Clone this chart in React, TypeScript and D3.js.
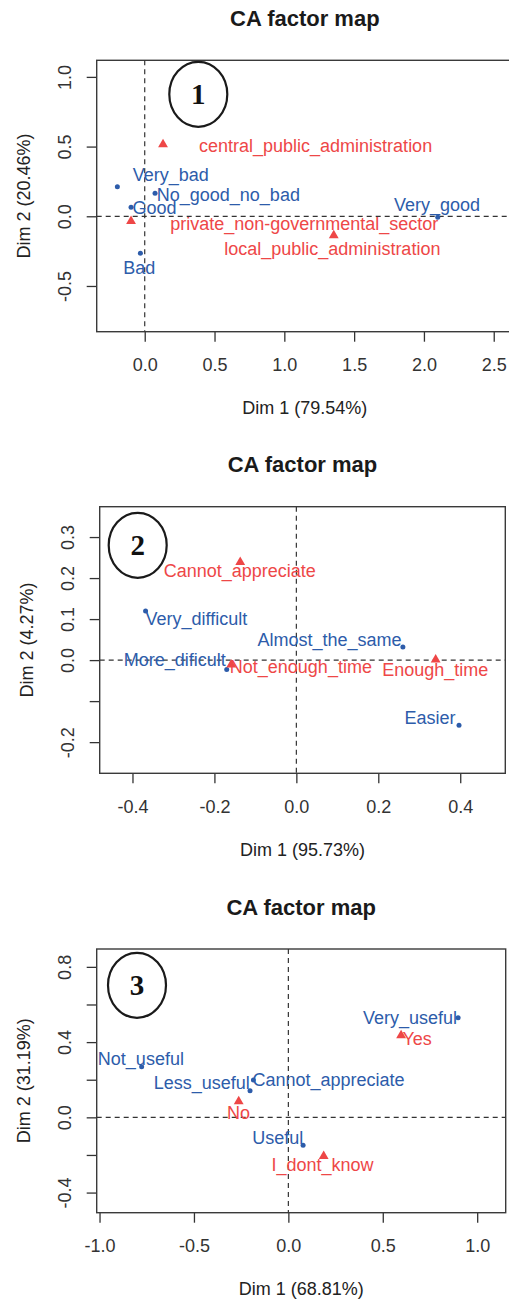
import { useRef, useEffect } from 'react';
import * as d3 from 'd3';

const BLUE = "#2d5caa";
const RED = "#ee4747";
const INK = "#333";
const FONT = "'Liberation Sans', Arial, sans-serif";
const FS = 18;

// Map 1 - rows (blue points) and columns (red triangles)
const rowPoints1 = [
  { label: "Very_bad", dim1: -0.196, dim2: 0.212 },
  { label: "No_good_no_bad", dim1: 0.074, dim2: 0.165 },
  { label: "Good", dim1: -0.098, dim2: 0.065 },
  { label: "Bad", dim1: -0.031, dim2: -0.265 },
  { label: "Very_good", dim1: 2.099, dim2: -0.007 }
];
const colPoints1 = [
  { label: "central_public_administration", dim1: 0.131, dim2: 0.519 },
  { label: "private_non-governmental_sector", dim1: -0.098, dim2: -0.032 },
  { label: "local_public_administration", dim1: 1.354, dim2: -0.134 }
];
const xTicks1 = [0, 0.5, 1, 1.5, 2, 2.5];
const xTickLabels1 = ["0.0", "0.5", "1.0", "1.5", "2.0", "2.5"];
const yTicks1 = [-0.5, 0, 0.5, 1];
const yTickLabels1 = ["-0.5", "0.0", "0.5", "1.0"];

// Map 2
const rowPoints2 = [
  { label: "Very_difficult", dim1: -0.368, dim2: 0.120 },
  { label: "More_dificult", dim1: -0.170, dim2: -0.023 },
  { label: "Almost_the_same", dim1: 0.260, dim2: 0.032 },
  { label: "Easier", dim1: 0.397, dim2: -0.159 }
];
const colPoints2 = [
  { label: "Cannot_appreciate", dim1: -0.137, dim2: 0.240 },
  { label: "Not_enough_time", dim1: -0.159, dim2: -0.010 },
  { label: "Enough_time", dim1: 0.340, dim2: 0.002 }
];
const xTicks2 = [-0.4, -0.2, 0, 0.2, 0.4];
const xTickLabels2 = ["-0.4", "-0.2", "0.0", "0.2", "0.4"];
const yTicks2 = [-0.2, -0.1, 0, 0.1, 0.2, 0.3];
const yTickLabels2 = ["-0.2", "", "0.0", "0.1", "0.2", "0.3"];

// Map 3
const rowPoints3 = [
  { label: "Very_useful", dim1: 0.899, dim2: 0.530 },
  { label: "Not_useful", dim1: -0.777, dim2: 0.269 },
  { label: "Less_useful", dim1: -0.203, dim2: 0.141 },
  { label: "Cannot_appreciate", dim1: -0.185, dim2: 0.198 },
  { label: "Useful", dim1: 0.078, dim2: -0.149 }
];
const colPoints3 = [
  { label: "Yes", dim1: 0.597, dim2: 0.438 },
  { label: "No", dim1: -0.263, dim2: 0.087 },
  { label: "I_dont_know", dim1: 0.187, dim2: -0.204 }
];
const xTicks3 = [-1, -0.5, 0, 0.5, 1];
const xTickLabels3 = ["-1.0", "-0.5", "0.0", "0.5", "1.0"];
const yTicks3 = [-0.4, -0.2, 0, 0.2, 0.4, 0.6, 0.8];
const yTickLabels3 = ["-0.4", "", "0.0", "", "0.4", "", "0.8"];

// where the repelled labels ended up (label centre, in dim units)
const rowLabelAt1 = [[0.187, 0.298], [0.599, 0.153], [0.070, 0.065], [-0.039, -0.369], [2.094, 0.081]];
const colLabelAt1 = [[1.224, 0.504], [1.143, -0.050], [1.344, -0.235]];
const rowLabelAt2 = [[-0.244, 0.100], [-0.297, 0.0], [0.081, 0.050], [0.326, -0.140]];
const colLabelAt2 = [[-0.138, 0.218], [0.011, -0.016], [0.339, -0.023]];
const rowLabelAt3 = [[0.644, 0.532], [-0.781, 0.314], [-0.459, 0.186], [0.213, 0.198], [-0.056, -0.109]];
const colLabelAt3 = [[0.682, 0.420], [-0.264, 0.027], [0.181, -0.254]];

type Pt = { label: string; dim1: number; dim2: number };

const panels = [
  {
    num: "1", rows: rowPoints1, cols: colPoints1, rowLab: rowLabelAt1, colLab: colLabelAt1,
    xTicks: xTicks1, xTickLabels: xTickLabels1, yTicks: yTicks1, yTickLabels: yTickLabels1,
    dim1: "Dim 1 (79.54%)", dim2: "Dim 2 (20.46%)",
    box: { left: 96.7, top: 60.3, right: 513, bottom: 331.7 },
    xDomain: [-0.344, 2.638], yDomain: [-0.828, 1.119], badge: [198.3, 94.3]
  },
  {
    num: "2", rows: rowPoints2, cols: colPoints2, rowLab: rowLabelAt2, colLab: colLabelAt2,
    xTicks: xTicks2, xTickLabels: xTickLabels2, yTicks: yTicks2, yTickLabels: yTickLabels2,
    dim1: "Dim 1 (95.73%)", dim2: "Dim 2 (4.27%)",
    box: { left: 99.7, top: 506.7, right: 505.3, bottom: 773.3 },
    xDomain: [-0.480, 0.510], yDomain: [-0.276, 0.374], badge: [137.7, 545.3]
  },
  {
    num: "3", rows: rowPoints3, cols: colPoints3, rowLab: rowLabelAt3, colLab: colLabelAt3,
    xTicks: xTicks3, xTickLabels: xTickLabels3, yTicks: yTicks3, yTickLabels: yTickLabels3,
    dim1: "Dim 1 (68.81%)", dim2: "Dim 2 (31.19%)",
    box: { left: 96.7, top: 949, right: 505.7, bottom: 1212.7 },
    xDomain: [-1.015, 1.151], yDomain: [-0.507, 0.895], badge: [137, 985.3]
  }
];

function drawPanel(svg: d3.Selection<SVGSVGElement, unknown, null, undefined>, p: typeof panels[0], idx: number) {
  const { left, top, right, bottom } = p.box;
  const g = svg.append("g");

  const x = d3.scaleLinear().domain(p.xDomain).range([left, right]);
  const y = d3.scaleLinear().domain(p.yDomain).range([bottom, top]);

  // title
  g.append("text")
    .attr("x", (left + right) / 2)
    .attr("y", top - 42)
    .attr("dy", "0.35em")
    .attr("text-anchor", "middle")
    .attr("font-family", FONT)
    .attr("font-weight", "bold")
    .attr("font-size", 22)
    .attr("fill", "#1a1a1a")
    .text("CA factor map");

  // axes
  const xAxis = g.append("g")
    .attr("transform", `translate(0,${bottom})`)
    .call(d3.axisBottom(x).tickValues(p.xTicks).tickFormat((_d, i) => p.xTickLabels[i]).tickSize(10));
  xAxis.select(".domain").remove();
  xAxis.attr("font-family", FONT).attr("font-size", FS).style("color", INK);
  xAxis.selectAll("line").attr("stroke-width", 1.3);
  xAxis.selectAll("text").attr("y", 33).attr("dy", "0.35em");

  const yAxis = g.append("g")
    .attr("transform", `translate(${left},0)`)
    .call(d3.axisLeft(y).tickValues(p.yTicks).tickFormat((_d, i) => p.yTickLabels[i]).tickSize(10));
  yAxis.select(".domain").remove();
  yAxis.attr("font-family", FONT).attr("font-size", FS).attr("text-anchor", "middle").style("color", INK);
  yAxis.selectAll("line").attr("stroke-width", 1.3);
  yAxis.selectAll("text")
    .attr("x", null)
    .attr("dy", null)
    .attr("transform", "translate(-25.5,0) rotate(-90)");

  // axis titles
  g.append("text")
    .attr("x", (left + right) / 2)
    .attr("y", bottom + 76)
    .attr("dy", "0.35em")
    .attr("text-anchor", "middle")
    .attr("font-family", FONT)
    .attr("font-size", FS)
    .attr("fill", "#222")
    .text(p.dim1);

  g.append("text")
    .attr("transform", `translate(${left - 73},${(top + bottom) / 2}) rotate(-90)`)
    .attr("dy", "0.35em")
    .attr("text-anchor", "middle")
    .attr("font-family", FONT)
    .attr("font-size", FS)
    .attr("fill", "#222")
    .text(p.dim2);

  // box
  g.append("rect")
    .attr("x", left).attr("y", top)
    .attr("width", right - left).attr("height", bottom - top)
    .attr("fill", "none")
    .attr("stroke", "#3a3a3a")
    .attr("stroke-width", 1.4);

  // zero lines
  const clipId = `clip-${idx}`;
  g.append("clipPath").attr("id", clipId)
    .append("rect").attr("x", left).attr("y", top).attr("width", right - left).attr("height", bottom - top);
  const zero = g.append("g").attr("clip-path", `url(#${clipId})`)
    .attr("stroke", INK).attr("stroke-width", 1.2).attr("stroke-dasharray", "5,4");
  zero.append("line").attr("x1", left).attr("x2", right).attr("y1", y(0)).attr("y2", y(0));
  zero.append("line").attr("x1", x(0)).attr("x2", x(0)).attr("y1", top).attr("y2", bottom);

  // row points
  g.selectAll("circle.row")
    .data(p.rows as Pt[])
    .join("circle")
    .attr("class", "row")
    .attr("cx", d => x(d.dim1))
    .attr("cy", d => y(d.dim2))
    .attr("r", 2.5)
    .attr("fill", BLUE);

  // column points
  const tri = d3.symbol(d3.symbolTriangle, 42);
  g.selectAll("path.col")
    .data(p.cols as Pt[])
    .join("path")
    .attr("class", "col")
    .attr("d", tri)
    .attr("transform", d => `translate(${x(d.dim1)},${y(d.dim2) + 0.5})`)
    .attr("fill", RED);

  // labels
  g.selectAll("text.rowlab")
    .data(p.rows as Pt[])
    .join("text")
    .attr("class", "rowlab")
    .attr("x", (_d, i) => x(p.rowLab[i][0]))
    .attr("y", (_d, i) => y(p.rowLab[i][1]))
    .attr("dy", "0.35em")
    .attr("text-anchor", "middle")
    .attr("font-family", FONT)
    .attr("font-size", FS)
    .attr("fill", BLUE)
    .text(d => d.label);

  g.selectAll("text.collab")
    .data(p.cols as Pt[])
    .join("text")
    .attr("class", "collab")
    .attr("x", (_d, i) => x(p.colLab[i][0]))
    .attr("y", (_d, i) => y(p.colLab[i][1]))
    .attr("dy", "0.35em")
    .attr("text-anchor", "middle")
    .attr("font-family", FONT)
    .attr("font-size", FS)
    .attr("fill", RED)
    .text(d => d.label);

  // numbered badge
  g.append("ellipse")
    .attr("cx", p.badge[0]).attr("cy", p.badge[1])
    .attr("rx", 29).attr("ry", 32.5)
    .attr("fill", "none")
    .attr("stroke", "#1a1a1a")
    .attr("stroke-width", 2.2);
  g.append("text")
    .attr("x", p.badge[0]).attr("y", p.badge[1])
    .attr("dy", "0.35em")
    .attr("text-anchor", "middle")
    .attr("font-family", "'Liberation Serif', 'Times New Roman', serif")
    .attr("font-weight", "bold")
    .attr("font-size", 29)
    .attr("fill", "#111")
    .text(p.num);
}

export default function App() {
  const ref = useRef<SVGSVGElement>(null);

  useEffect(() => {
    if (!ref.current) return;
    const svg = d3.select(ref.current);
    svg.selectAll("*").remove();
    panels.forEach((p, i) => drawPanel(svg, p, i));
  }, []);

  return (
    <div style={{ position: 'absolute', left: 0, top: 0 }}>
      <svg ref={ref} width={509} height={1299} style={{ display: 'block', background: '#fff' }}></svg>
    </div>
  );
}
